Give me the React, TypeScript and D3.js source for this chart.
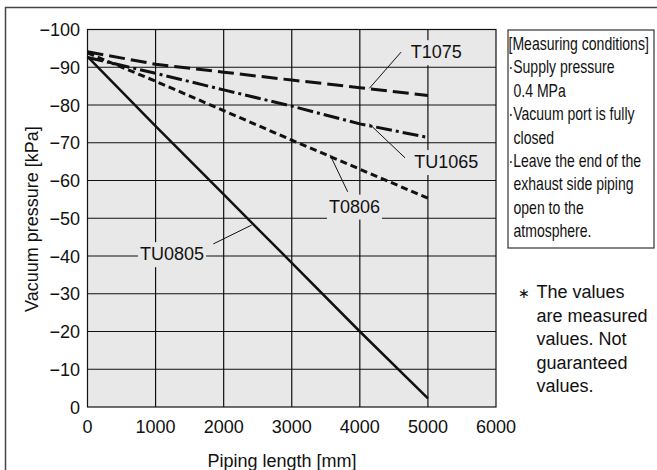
import React, { useEffect, useRef } from "react";
import * as d3 from "d3";

const lengths = [0, 1000, 2000, 3000, 4000, 5000];
const tu0805 = [-92.8, -74.4, -56.3, -38.2, -20, -2.3];
const t0806 = [-93.8, -86.3, -78.5, -70.7, -63, -55.3];
const tu1065 = [-92.6, -88.4, -84, -79.7, -75, -71.4];
const t1075 = [-94.1, -90.8, -88.7, -86.6, -84.6, -82.5];

const xTicks = [0, 1000, 2000, 3000, 4000, 5000, 6000];
const yTicks = [0, -10, -20, -30, -40, -50, -60, -70, -80, -90, -100];

const seriesNames = ["TU0805", "T0806", "TU1065", "T1075"];
const seriesValues = [tu0805, t0806, tu1065, t1075];
const seriesDash = ["none", "7,4", "16,4,3,4", "16,6"];
const seriesWidth = [2.5, 3, 3, 3];

// label: text start (x, y baseline) and leader line (from, to) in data units
const labelText = [4747, -92.4, 4605, -94.0, 4139, -84.4];
const labels = [
  { name: "T1075", tx: 4747, ty: -92.4, x1: 4605, y1: -94.0, x2: 4139, y2: -84.4 },
  { name: "TU1065", tx: 4800, ty: -63.3, x1: 4664, y1: -66.0, x2: 4139, y2: -75.0 },
  { name: "T0806", tx: 3547, ty: -51.5, x1: 3822, y1: -57.0, x2: 3562, y2: -66.8 },
  { name: "TU0805", tx: 771, ty: -38.9, x1: 1848, y1: -43.2, x2: 2412, y2: -48.2 },
];

const conditionLines = [
  { t: "[Measuring conditions]", indent: false },
  { t: "·Supply pressure", indent: false },
  { t: "0.4 MPa", indent: true },
  { t: "·Vacuum port is fully", indent: false },
  { t: "closed", indent: true },
  { t: "·Leave the end of the", indent: false },
  { t: "exhaust side piping", indent: true },
  { t: "open to the", indent: true },
  { t: "atmosphere.", indent: true },
];

const noteLines = ["The values", "are measured", "values. Not", "guaranteed", "values."];

const FONT = "'Liberation Sans', Arial, Helvetica, sans-serif";

export default function App() {
  const ref = useRef<SVGSVGElement | null>(null);

  useEffect(() => {
    const svg = d3.select(ref.current);
    svg.selectAll("*").remove();
    void labelText;

    const x = d3.scaleLinear().domain([0, 6000]).range([87.5, 496]);
    const y = d3.scaleLinear().domain([0, -100]).range([407, 29.5]);

    // outer frame
    svg.append("line").attr("x1", 5).attr("y1", 7.5).attr("x2", 657).attr("y2", 7.5)
      .attr("stroke", "#444").attr("stroke-width", 1.5);
    svg.append("line").attr("x1", 5.5).attr("y1", 7).attr("x2", 5.5).attr("y2", 470)
      .attr("stroke", "#444").attr("stroke-width", 1.5);

    // plot background
    svg.append("rect").attr("x", x(0)).attr("y", y(-100))
      .attr("width", x(6000) - x(0)).attr("height", y(0) - y(-100))
      .attr("fill", "#e8e8e8");

    const grid = svg.append("g").attr("stroke", "#111").attr("stroke-width", 1.2);
    xTicks.slice(1, -1).forEach((t) => {
      grid.append("line").attr("x1", x(t)).attr("x2", x(t)).attr("y1", y(-100)).attr("y2", y(0));
    });
    yTicks.slice(1, -1).forEach((t) => {
      grid.append("line").attr("x1", x(0)).attr("x2", x(6000)).attr("y1", y(t)).attr("y2", y(t));
    });
    svg.append("rect").attr("x", x(0)).attr("y", y(-100))
      .attr("width", x(6000) - x(0)).attr("height", y(0) - y(-100))
      .attr("fill", "none").attr("stroke", "#111").attr("stroke-width", 1.2);

    // label backgrounds + labels
    const labG = svg.append("g");
    labels.forEach((l) => {
      const g = labG.append("g");
      const rect = g.append("rect").attr("fill", "#e8e8e8");
      const txt = g.append("text").attr("x", x(l.tx)).attr("y", y(l.ty))
        .attr("font-family", FONT).attr("font-size", 18).attr("fill", "#111").text(l.name);
      const bb = (txt.node() as SVGTextElement).getBBox();
      rect.attr("x", bb.x - 2).attr("y", bb.y - 2).attr("width", bb.width + 4).attr("height", bb.height + 5);
      g.append("line").attr("x1", x(l.x1)).attr("y1", y(l.y1)).attr("x2", x(l.x2)).attr("y2", y(l.y2))
        .attr("stroke", "#111").attr("stroke-width", 1);
    });

    // series lines
    const line = d3.line<number>().x((_, i) => x(lengths[i])).y((d) => y(d));
    seriesValues.forEach((vals, i) => {
      svg.append("path").attr("d", line(vals) as string)
        .attr("fill", "none").attr("stroke", "#111")
        .attr("stroke-width", seriesWidth[i])
        .attr("stroke-dasharray", seriesDash[i])
        .attr("data-name", seriesNames[i]);
    });

    // tick labels
    yTicks.forEach((t) => {
      svg.append("text").attr("x", 80).attr("y", y(t) + 6.5).attr("text-anchor", "end")
        .attr("font-family", FONT).attr("font-size", 18).attr("fill", "#111")
        .text(t === 0 ? "0" : "\u2212" + Math.abs(t));
    });
    xTicks.forEach((t) => {
      svg.append("text").attr("x", x(t)).attr("y", 433).attr("text-anchor", "middle")
        .attr("font-family", FONT).attr("font-size", 18).attr("fill", "#111")
        .text(String(t));
    });

    // axis titles
    svg.append("text").attr("x", 282).attr("y", 467).attr("text-anchor", "middle")
      .attr("font-family", FONT).attr("font-size", 18).attr("fill", "#111")
      .text("Piping length [mm]");
    svg.append("text").attr("transform", "translate(38,219) rotate(-90)")
      .attr("text-anchor", "middle")
      .attr("font-family", FONT).attr("font-size", 18).attr("fill", "#111")
      .text("Vacuum pressure [kPa]");

    // conditions box
    svg.append("rect").attr("x", 508).attr("y", 30).attr("width", 146).attr("height", 218)
      .attr("fill", "#fff").attr("stroke", "#333").attr("stroke-width", 1.2);
    conditionLines.forEach((c, i) => {
      const tx = c.indent ? 513.5 : 508.5;
      svg.append("text")
        .attr("transform", `translate(${tx},${50 + i * 23.4}) scale(0.78,1)`)
        .attr("font-family", FONT).attr("font-size", 18).attr("fill", "#111")
        .text(c.t);
    });

    // note
    svg.append("text").attr("x", 524).attr("y", 298.3).attr("text-anchor", "middle")
      .attr("font-family", FONT).attr("font-size", 14).attr("fill", "#111").text("\u2217");
    noteLines.forEach((t, i) => {
      svg.append("text").attr("x", 536.5).attr("y", 298.3 + i * 23.4)
        .attr("font-family", FONT).attr("font-size", 18).attr("fill", "#111").text(t);
    });
  }, []);

  return (
    <svg ref={ref} width={657} height={470}
      style={{ position: "absolute", left: 0, top: 0, background: "#fff" }} />
  );
}
